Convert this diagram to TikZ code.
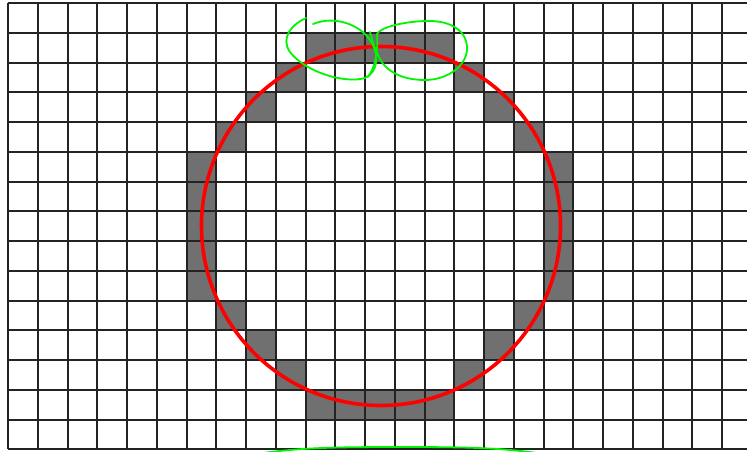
\documentclass[tikz,border=0pt]{standalone}
\usepackage{tikz}
\definecolor{cellgray}{RGB}{112,112,112}
\definecolor{gridline}{RGB}{35,35,35}
\definecolor{hlgreen}{RGB}{0,245,0}
\tikzset{
  gridlines/.style={draw=gridline,line width=1.15pt},
  redcircle/.style={draw=red,line width=3.6pt},
  greenstroke/.style={draw=hlgreen,line width=1.8pt,line cap=round,line join=round},
}
\newcommand{\gcell}[2]{%
  \pgfmathsetmacro\gxa{round(8+29.75*#1)}\pgfmathsetmacro\gxb{round(8+29.75*(#1+1))}%
  \pgfmathsetmacro\gya{round(3+29.75*#2)}\pgfmathsetmacro\gyb{round(3+29.75*(#2+1))}%
  \fill[cellgray] (\gxa,\gya) rectangle (\gxb,\gyb);}
\begin{document}
\begin{tikzpicture}[x=1pt,y=-1pt]
\useasboundingbox (0,0) rectangle (747,452);
\fill[white] (0,0) rectangle (747,452);
% gray cells
\foreach \c in {10,...,14} {\gcell{\c}{1}\gcell{\c}{13}}
\foreach \r/\a/\b in {2/9/15,3/8/16,4/7/17,5/6/18,6/6/18,7/6/18,8/6/18,9/6/18,10/7/17,11/8/16,12/9/15} {\gcell{\a}{\r}\gcell{\b}{\r}}
% grid
\foreach \k in {0,...,25} {\pgfmathsetmacro\xx{round(8+29.75*\k)}\draw[gridlines] (\xx,3) -- (\xx,449);}
\foreach \r in {0,...,15} {\pgfmathsetmacro\yy{round(3+29.75*\r)}\draw[gridlines] (8,\yy) -- (760,\yy);}
% red circle
\draw[redcircle] (381,226) circle (179.5);
% green loops
\draw[greenstroke] (313,24) .. controls (335,15) and (360,25) .. (370,40)
  .. controls (380,55) and (378,72) .. (365,78)
  .. controls (345,84) and (305,72) .. (290,52)
  .. controls (280,38) and (292,24) .. (306,18);
\draw[greenstroke] (368,77) .. controls (377,65) and (378,45) .. (377,34)
  .. controls (380,28) and (400,22) .. (425,21)
  .. controls (450,20) and (466,30) .. (467,47)
  .. controls (468,65) and (448,80) .. (425,80)
  .. controls (400,80) and (384,70) .. (378,55)
  .. controls (375,48) and (372,40) .. (370,32);
% bottom green arc
\draw[greenstroke] (263,453) .. controls (300,448) and (330,447) .. (400,447)
  .. controls (470,447) and (500,448) .. (537,453);
\end{tikzpicture}
\end{document}
